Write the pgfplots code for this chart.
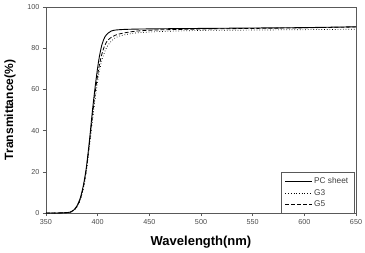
\documentclass[border=0pt]{standalone}
\usepackage{pgfplots}
\pgfplotsset{compat=1.18}
\usepackage{fontspec}
\setmainfont{Liberation Sans}
\begin{document}
\begin{tikzpicture}
\begin{axis}[
  name=ax,
  scale only axis, width=310pt, height=206pt,
  xmin=350, xmax=650, ymin=0, ymax=100,
  xtick={350,400,...,650}, ytick={0,20,...,100},
  tick align=outside, xtick pos=bottom, ytick pos=left,
  major tick length=3pt,
  axis line style={black!65, line width=0.6pt},
  tick style={black!65, line width=0.5pt},
  ticklabel style={font=\fontsize{7.2}{8}\selectfont, text=black!70},
  /pgf/number format/assume math mode=true,
  xlabel={\textbf{Wavelength(nm)}},
  ylabel={\textbf{Transmittance(\%)}},
  label style={font=\fontsize{13}{14}\selectfont},
  xlabel style={at={(axis description cs:0.5,-0.141)}, anchor=center},
  ylabel style={at={(axis description cs:-0.116,0.5)}, anchor=center, font=\fontsize{12}{13}\selectfont},
  legend style={at={(0.995,0)}, anchor=south east, draw=black!65, font=\fontsize{8.3}{9}\selectfont, text=black!75, row sep=0pt, inner xsep=4pt, inner ysep=3pt},
  legend cell align=left,
  legend image code/.code={\draw[#1] (0cm,0cm) -- (0.92cm,0cm);},
]
\addplot[black, line width=0.9pt, smooth] coordinates {
(350,0) (360,0) (370,0.2) (374,0.5) (377,1.5) (380,3.5) (383,7) (386,13) (389,22) (392,35) (395,50) (398,63) (401,74) (404,81.5) (407,85.5) (410,87.3) (413,88.3) (417,88.8) (425,89.1) (440,89.3) (475,89.5) (500,89.6) (550,89.8) (600,90) (650,90.4)};
\addlegendentry{PC sheet}
\addplot[black, line width=0.7pt, dotted, smooth] coordinates {
(350,0) (360,0) (370,0.2) (374,0.5) (377,1.3) (380,3) (383,6) (386,11.5) (389,20) (392,32) (395,45) (398,57) (401,67) (404,74) (407,78.5) (410,81.5) (415,84.3) (420,85.7) (430,86.9) (440,87.5) (460,88.1) (500,88.6) (550,88.8) (600,89) (650,89.2)};
\addlegendentry{G3}
\addplot[black, line width=0.8pt, dash pattern=on 4pt off 2pt, smooth] coordinates {
(350,0) (360,0) (370,0.2) (374,0.5) (377,1.4) (380,3.2) (383,6.5) (386,12) (389,21) (392,33.5) (395,47.5) (398,60) (401,70) (404,77) (407,81.5) (410,84) (415,85.8) (420,86.8) (430,87.8) (440,88.4) (460,88.9) (500,89.3) (550,89.6) (600,89.9) (650,90.3)};
\addlegendentry{G5}
\end{axis}
\pgfresetboundingbox
\path ([shift={(-46pt,-39pt)}]ax.south west) rectangle ([shift={(9pt,7pt)}]ax.north east);
\end{tikzpicture}
\end{document}
